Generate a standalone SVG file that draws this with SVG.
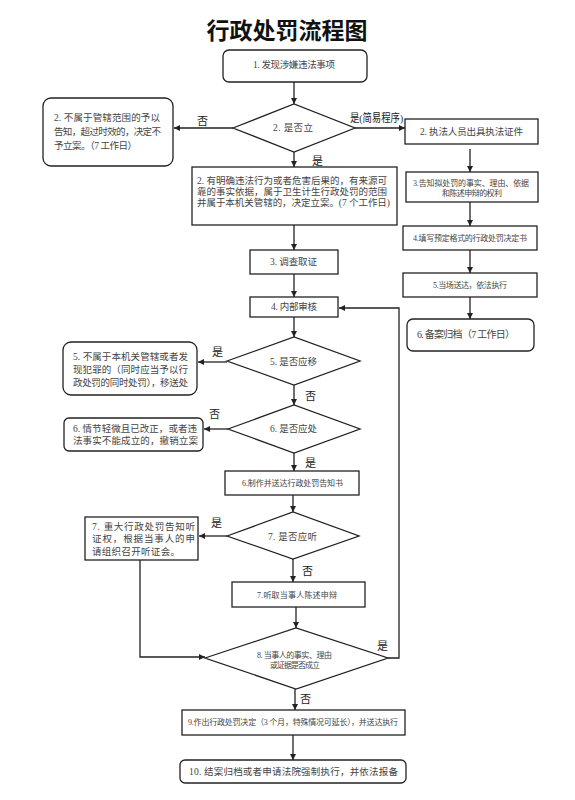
<svg xmlns="http://www.w3.org/2000/svg" width="575" height="800" viewBox="0 0 575 800">
<defs>
<marker id="ah" viewBox="0 0 10 10" refX="10" refY="5" markerWidth="6" markerHeight="6" markerUnits="userSpaceOnUse" orient="auto">
<path d="M0,0 L10,5 L0,10 z" fill="#222"/>
</marker>
<style>
.box{fill:#ffffff;stroke:#222;stroke-width:1.3}
.dia{fill:#ffffff;stroke:#222;stroke-width:1.3}
.con{fill:none;stroke:#222;stroke-width:1.3;marker-end:url(#ah)}
text{font-family:'Liberation Serif','Noto Sans CJK SC',serif;fill:#444;dominant-baseline:central}
.t{font-size:9.5px}
.s{font-size:8px}
.m{font-size:10px}
.lbl{font-size:11px;fill:#222}
.title{font-size:23px;font-weight:bold;fill:#111;text-anchor:middle}
</style>
</defs>
<rect x="0" y="0" width="575" height="800" fill="#ffffff"/>
<text class="title" x="287" y="31">行政处罚流程图</text>

<g id="connectors">
<line class="con" x1="294" y1="82" x2="294" y2="104"/>
<line class="con" x1="233" y1="128" x2="174" y2="128"/>
<line class="con" x1="355" y1="128" x2="405" y2="128"/>
<line class="con" x1="294" y1="152" x2="294" y2="167"/>
<line class="con" x1="470" y1="149" x2="470" y2="172"/>
<line class="con" x1="470" y1="202" x2="470" y2="226"/>
<line class="con" x1="470" y1="250" x2="470" y2="273"/>
<line class="con" x1="470" y1="297" x2="470" y2="319"/>
<line class="con" x1="294" y1="225" x2="294" y2="250"/>
<line class="con" x1="294" y1="274" x2="294" y2="297"/>
<line class="con" x1="294" y1="317" x2="294" y2="337"/>
<line class="con" x1="227" y1="362" x2="198" y2="362"/>
<line class="con" x1="294" y1="385" x2="294" y2="405"/>
<line class="con" x1="228" y1="429" x2="204" y2="429"/>
<line class="con" x1="294" y1="453" x2="294" y2="471"/>
<line class="con" x1="293" y1="495" x2="293" y2="512"/>
<line class="con" x1="227" y1="536" x2="199" y2="536"/>
<line class="con" x1="293" y1="559" x2="293" y2="582"/>
<line class="con" x1="296" y1="607" x2="296" y2="628"/>
<path class="con" d="M140,560 V657 H205"/>
<path class="con" d="M388,658 H399 V308 H339"/>
<line class="con" x1="295" y1="689" x2="295" y2="710"/>
<line class="con" x1="293" y1="735" x2="293" y2="760"/>
</g>

<g id="labels">
<text class="lbl" x="197" y="121">否</text>
<text class="lbl" x="350" y="118" textLength="53" lengthAdjust="spacingAndGlyphs">是(简易程序)</text>
<text class="lbl" x="312" y="161">是</text>
<text class="lbl" x="212" y="352">是</text>
<text class="lbl" x="305" y="396">否</text>
<text class="lbl" x="209" y="414">否</text>
<text class="lbl" x="305" y="463">是</text>
<text class="lbl" x="211" y="523">是</text>
<text class="lbl" x="302" y="571">否</text>
<text class="lbl" x="377" y="646">是</text>
<text class="lbl" x="300" y="699">否</text>
</g>

<g id="n1">
<rect class="box" x="223" y="50" width="144" height="32" rx="6"/>
<text class="t" x="253" y="65" textLength="82">1. 发现涉嫌违法事项</text>
</g>
<g id="d2">
<polygon class="dia" points="233,128 294,104 355,128 294,152"/>
<text class="t" x="273" y="128" textLength="40">2. 是否立</text>
</g>
<g id="n2-no">
<rect class="box" x="43" y="98" width="130" height="68" rx="8"/>
<text class="t" x="54" y="118" textLength="106">2. 不属于管辖范围的予以</text>
<text class="t" x="54" y="132" textLength="107">告知，超过时效的，决定不</text>
<text class="t" x="54" y="146" textLength="83">予立案。（7 工作日）</text>
</g>
<g id="n2-simple">
<rect class="box" x="405" y="119" width="133" height="25"/>
<text class="t" x="420" y="132" textLength="103">2. 执法人员出具执法证件</text>
</g>
<g id="n2-yes">
<rect class="box" x="192" y="167" width="205" height="58"/>
<text class="t" x="197" y="181" textLength="190">2. 有明确违法行为或者危害后果的，有来源可</text>
<text class="t" x="197" y="192" textLength="190">靠的事实依据，属于卫生计生行政处罚的范围</text>
<text class="t" x="197" y="203" textLength="193">并属于本机关管辖的，决定立案。(7 个工作日)</text>
</g>
<g id="r3">
<rect class="box" x="406" y="172" width="132" height="30"/>
<text class="s" x="413" y="183" textLength="116">3.告知拟处罚的事实、理由、依据</text>
<text class="s" x="442" y="193" textLength="60">和陈述申辩的权利</text>
</g>
<g id="r4">
<rect class="box" x="403" y="226" width="134" height="24"/>
<text class="s" x="413" y="238" textLength="114">4.填写预定格式的行政处罚决定书</text>
</g>
<g id="r5">
<rect class="box" x="403" y="273" width="134" height="24"/>
<text class="s" x="433" y="285" textLength="74">5.当场送达，依法执行</text>
</g>
<g id="r6">
<rect class="box" x="407" y="319" width="127" height="32" rx="6"/>
<text class="m" x="417" y="334" textLength="98">6. 备案归档（7 工作日）</text>
</g>
<g id="n3">
<rect class="box" x="250" y="250" width="88" height="24"/>
<text class="t" x="270" y="262" textLength="47">3. 调查取证</text>
</g>
<g id="n4">
<rect class="box" x="250" y="297" width="88" height="20"/>
<text class="t" x="271" y="307" textLength="46">4. 内部审核</text>
</g>
<g id="d5">
<polygon class="dia" points="227,361 294,337 360,361 294,385"/>
<text class="t" x="270" y="362" textLength="47">5. 是否应移</text>
</g>
<g id="n5-transfer">
<rect class="box" x="63" y="342" width="134" height="53" rx="8"/>
<text class="t" x="73" y="357" textLength="115">5. 不属于本机关管辖或者发</text>
<text class="t" x="73" y="370" textLength="115">现犯罪的（同时应当予以行</text>
<text class="t" x="73" y="383" textLength="115">政处罚的同时处罚），移送处</text>
</g>
<g id="d6">
<polygon class="dia" points="228,429 294,405 360,429 294,453"/>
<text class="t" x="270" y="429" textLength="47">6. 是否应处</text>
</g>
<g id="n6-revoke">
<rect class="box" x="64" y="418" width="139" height="33" rx="5"/>
<text class="t" x="73" y="429" textLength="124">6. 情节轻微且已改正，或者违</text>
<text class="t" x="73" y="441" textLength="125">法事实不能成立的，撤销立案</text>
</g>
<g id="n6">
<rect class="box" x="225" y="471" width="134" height="24"/>
<text class="s" x="242" y="483" textLength="101">6.制作并送达行政处罚告知书</text>
</g>
<g id="d7">
<polygon class="dia" points="227,536 293,512 359,536 293,559"/>
<text class="t" x="268" y="537" textLength="49">7. 是否应听</text>
</g>
<g id="n7-hearing">
<rect class="box" x="85" y="517" width="113" height="43"/>
<text class="t" x="92" y="527" textLength="103">7. 重大行政处罚告知听</text>
<text class="t" x="92" y="539" textLength="103">证权，根据当事人的申</text>
<text class="t" x="92" y="552" textLength="88">请组织召开听证会。</text>
</g>
<g id="n7">
<rect class="box" x="232" y="582" width="133" height="25"/>
<text class="s" x="257" y="595" textLength="80">7.听取当事人陈述申辩</text>
</g>
<g id="d8">
<polygon class="dia" points="205,658 296,628 388,658 296,689"/>
<text class="s" x="257" y="655" textLength="75">8. 当事人的事实、理由</text>
<text class="s" x="270" y="665" textLength="50">或证据是否成立</text>
</g>
<g id="n9">
<rect class="box" x="182" y="710" width="223" height="25"/>
<text class="s" x="188" y="722" textLength="210">9.作出行政处罚决定（3 个月，特殊情况可延长），并送达执行</text>
</g>
<g id="n10">
<rect class="box" x="180" y="760" width="226" height="23" rx="5"/>
<text class="t" x="189" y="772" textLength="209">10. 结案归档或者申请法院强制执行，并依法报备</text>
</g>
</svg>
